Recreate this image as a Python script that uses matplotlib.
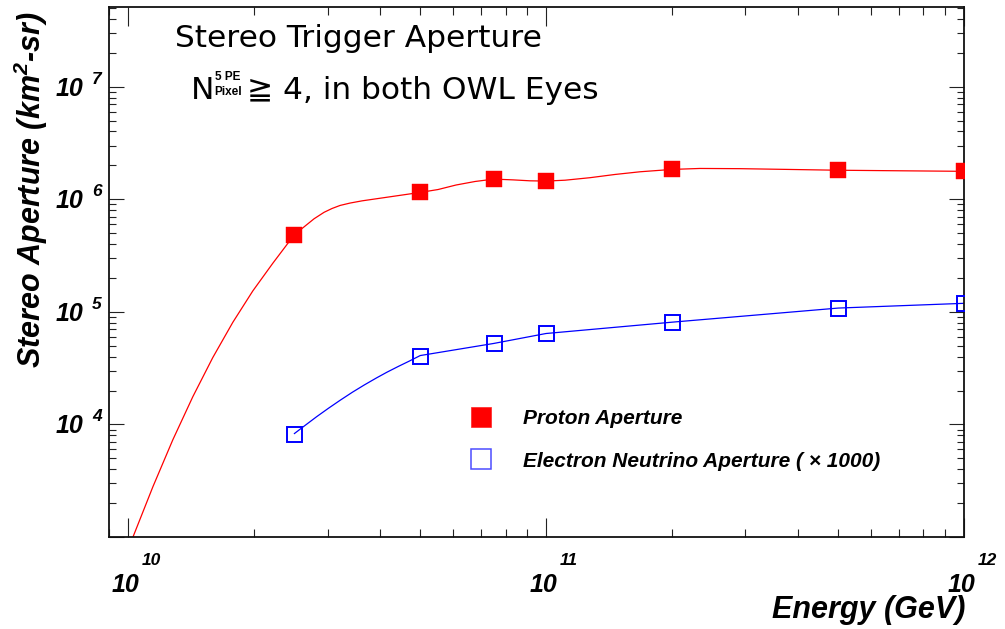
import numpy as np
import matplotlib
matplotlib.use('Agg')
import matplotlib.pyplot as plt
from matplotlib.ticker import LogLocator, NullFormatter

# ---- data ----
energy = [2.5e10, 5e10, 7.5e10, 1e11, 2e11, 5e11, 1e12]
proton_aperture = [4.85e5, 1.15e6, 1.51e6, 1.45e6, 1.84e6, 1.81e6, 1.77e6]
nue_aperture = [8.3e3, 4.09e4, 5.24e4, 6.42e4, 8.09e4, 1.08e5, 1.19e5]

# smooth guide curves as drawn in the picture (read point by point)
proton_curve_e = [1.026e10, 1.146e10, 1.279e10, 1.428e10, 1.594e10, 1.780e10,
                  1.988e10, 2.219e10, 2.5e10, 2.637e10, 2.786e10, 2.944e10,
                  3.076e10, 3.215e10, 3.397e10, 3.63e10, 5e10, 5.516e10, 6.09e10,
                  6.763e10, 7.5e10, 8.34e10, 9.15e10, 1e11, 1.11e11, 1.274e11,
                  1.462e11, 1.679e11, 2e11, 2.335e11, 2.912e11, 3.835e11,
                  5e11, 7e11, 1e12]
proton_curve_a = [9.9e2, 2.79e3, 7.29e3, 1.76e4, 3.92e4, 8.06e4,
                  1.535e5, 2.70e5, 4.85e5, 5.69e5, 6.71e5, 7.66e5,
                  8.28e5, 8.81e5, 9.25e5, 9.68e5, 1.15e6, 1.22e6, 1.338e6,
                  1.438e6, 1.51e6, 1.486e6, 1.458e6, 1.45e6, 1.476e6, 1.554e6,
                  1.66e6, 1.754e6, 1.84e6, 1.877e6, 1.869e6, 1.839e6,
                  1.81e6, 1.79e6, 1.77e6]
nue_curve_e = [2.5e10, 2.651e10, 2.828e10, 3.015e10, 3.216e10, 3.44e10,
               3.675e10, 3.926e10, 4.158e10, 4.434e10, 4.71e10, 5e10,
               7.5e10, 1e11, 2e11, 5e11, 1e12]
nue_curve_a = [8.3e3, 9.80e3, 1.174e4, 1.391e4, 1.639e4, 1.931e4,
               2.243e4, 2.584e4, 2.904e4, 3.278e4, 3.655e4, 4.09e4,
               5.24e4, 6.42e4, 8.09e4, 1.08e5, 1.19e5]

x_major = [1e10, 1e11, 1e12]
x_exp = ['10', '11', '12']
y_major = [1e4, 1e5, 1e6, 1e7]
y_exp = ['4', '5', '6', '7']

legend_labels = ['Proton Aperture', 'Electron Neutrino Aperture ( \u00d7 1000)']

plt.rcParams['mathtext.fontset'] = 'custom'
plt.rcParams['mathtext.rm'] = 'Liberation Sans:bold:italic'
plt.rcParams['mathtext.it'] = 'Liberation Sans:bold:italic'
plt.rcParams['mathtext.bf'] = 'Liberation Sans:bold:italic'

W, H = 1005, 629
fig = plt.figure(figsize=(W / 100, H / 100), dpi=100)
ax = fig.add_axes([109 / W, 1 - 537 / H, (964 - 109) / W, (537 - 7) / H])

ax.set_xscale('log')
ax.set_yscale('log')
ax.set_xlim(9.0e9, 1e12)
ax.set_ylim(1e3, 5.1e7)

ax.plot(proton_curve_e, proton_curve_a, color='#ff0000', lw=0.9, zorder=2)
ax.plot(nue_curve_e, nue_curve_a, color='#0000ff', lw=0.9, zorder=2)
ax.plot(energy, proton_aperture, ls='none', marker='s', ms=12, mfc='#ff0000',
        mec='#ff0000', mew=0.3, zorder=3)
ax.plot(energy, nue_aperture, ls='none', marker='s', ms=10.8, mfc='none',
        mec='#0000ff', mew=1.4, zorder=3)

# ticks
ax.xaxis.set_major_locator(LogLocator(base=10, numticks=10))
ax.xaxis.set_minor_locator(LogLocator(base=10, subs=np.arange(2, 10), numticks=20))
ax.yaxis.set_major_locator(LogLocator(base=10, numticks=10))
ax.yaxis.set_minor_locator(LogLocator(base=10, subs=np.arange(2, 10), numticks=20))
for a in (ax.xaxis, ax.yaxis):
    a.set_major_formatter(NullFormatter())
    a.set_minor_formatter(NullFormatter())
ax.tick_params(axis='x', which='major', direction='in', top=True, bottom=True,
               length=14, width=0.8, color='#222222')
ax.tick_params(axis='x', which='minor', direction='in', top=True, bottom=True,
               length=6, width=0.8, color='#222222')
ax.tick_params(axis='y', which='major', direction='in', left=True, right=True,
               length=11, width=0.8, color='#222222')
ax.tick_params(axis='y', which='minor', direction='in', left=True, right=True,
               length=5, width=0.8, color='#222222')
for s in ax.spines.values():
    s.set_linewidth(1.3)
    s.set_color('#111111')

lab = dict(family='Liberation Sans', weight='bold', style='italic', color='black')

# tick labels: "10" with separated exponent
for v, e in zip(y_major, y_exp):
    ax.annotate('10', xy=(0, v), xycoords=ax.get_yaxis_transform(),
                xytext=(-26, -9), textcoords='offset pixels', ha='right',
                va='baseline', fontsize=18, annotation_clip=False, **lab)
    ax.annotate(e, xy=(0, v), xycoords=ax.get_yaxis_transform(),
                xytext=(-17, 3), textcoords='offset pixels', ha='left',
                va='baseline', fontsize=12.5, annotation_clip=False, **lab)
for v, e in zip(x_major, x_exp):
    ax.annotate('10', xy=(v, 0), xycoords=ax.get_xaxis_transform(),
                xytext=(-3, -55), textcoords='offset pixels', ha='center',
                va='baseline', fontsize=18, annotation_clip=False, **lab)
    ax.annotate(e, xy=(v, 0), xycoords=ax.get_xaxis_transform(),
                xytext=(14, -28), textcoords='offset pixels', ha='left',
                va='baseline', fontsize=12.5, annotation_clip=False, **lab)

# axis titles
fig.text(965 / W, 1 - 618 / H, 'Energy (GeV)', ha='right', va='baseline',
         fontsize=22, **lab)
fig.text(31 / W, 1 - 12 / H, 'Stereo Aperture (km$^{2}$-sr)', rotation=90,
         ha='center', va='top', fontsize=22, **lab)

# title block
tfont = dict(family=['DejaVu Sans'], color='black')
fig.text(175 / W, 1 - 47.3 / H, 'Stereo Trigger Aperture', ha='left',
         va='baseline', fontsize=22.5, **tfont)
fig.text(190.7 / W, 1 - 99.3 / H, 'N', ha='left', va='baseline', fontsize=22.5, **tfont)
fig.text(214.5 / W, 1 - 80 / H, '5 PE', ha='left', va='baseline', fontsize=8.5,
         family='Liberation Sans', weight='bold')
fig.text(214.5 / W, 1 - 95 / H, 'Pixel', ha='left', va='baseline', fontsize=8.5,
         family='Liberation Sans', weight='bold')
fig.text(246.7 / W, 1 - 99.3 / H, '\u2267 4, in both OWL Eyes', ha='left',
         va='baseline', fontsize=22.5, **tfont)

# legend (manual)
def axfrac(px, py):
    return (px - 109) / (964 - 109), (537 - py) / (537 - 7)

lx, ly1 = axfrac(480.7, 416.7)
_, ly2 = axfrac(480.7, 459.3)
tx, _ = axfrac(522.7, 0)
ax.plot([lx], [ly1], transform=ax.transAxes, marker='s', ms=14.5, mfc='#ff0000',
        mec='#ff2222', mew=0.5, ls='none', clip_on=False)
ax.plot([lx], [ly2], transform=ax.transAxes, marker='s', ms=14, mfc='white',
        mec='#4d4dff', mew=1.1, ls='none', clip_on=False)
ax.text(tx, ly1, legend_labels[0], transform=ax.transAxes, ha='left',
        va='center_baseline', fontsize=15, **lab)
ax.text(tx, ly2, legend_labels[1], transform=ax.transAxes, ha='left',
        va='center_baseline', fontsize=15, **lab)

fig.savefig('out.png', dpi=100)
